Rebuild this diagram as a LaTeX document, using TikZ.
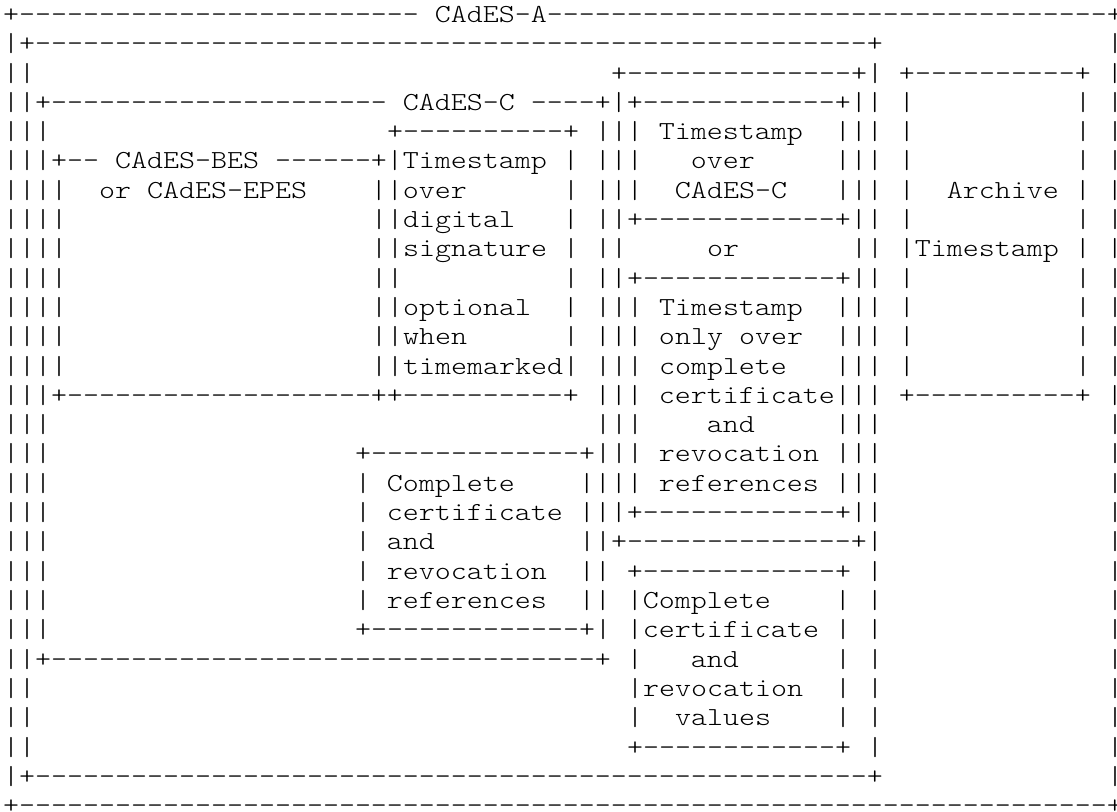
\documentclass[tikz,border=0pt]{standalone}
\usepackage{graphicx}
\ExplSyntaxOn
\NewDocumentCommand\dsh{m}{\prg_replicate:nn{#1}{-\kern0pt}}
\ExplSyntaxOff
\newcommand\spc[1]{\hskip#1\fontcharwd\font`x\relax}
\newcommand\asciifont{\ttfamily\fontseries{l}\selectfont\fontsize{19.5}{19.5}\selectfont\frenchspacing}
\newcommand\asciitxt[1]{\scalebox{1.17216}[1]{#1}}
\tikzset{asciirow/.style={anchor=base west, inner sep=0pt, outer sep=0pt, font=\asciifont}}
\begin{document}
\begin{tikzpicture}[x=0.75pt,y=-0.75pt]
\fill[white] (0,0) rectangle (1117,812);
\useasboundingbox (0,0) rectangle (1117,812);
\clip (0,0) rectangle (1117,812);
\node[asciirow] (r0) at (3,22.5) {\asciitxt{+\dsh{25}\spc{1}CAdES-A\dsh{35}+}};
\node[asciirow] (r1) at (3,51.8) {\asciitxt{|+\dsh{52}+\spc{14}|}};
\node[asciirow] (r2) at (3,81.1) {\asciitxt{||\spc{36}+\dsh{14}+|\spc{1}+\dsh{10}+\spc{1}|}};
\node[asciirow] (r3) at (3,110.4) {\asciitxt{||+\dsh{21}\spc{1}CAdES-C\spc{1}\dsh{4}+|+\dsh{12}+||\spc{1}|\spc{10}|\spc{1}|}};
\node[asciirow] (r4) at (3,139.7) {\asciitxt{|||\spc{21}+\dsh{10}+\spc{1}|||\spc{1}Timestamp\spc{2}|||\spc{1}|\spc{10}|\spc{1}|}};
\node[asciirow] (r5) at (3,169.0) {\asciitxt{|||+\dsh{2}\spc{1}CAdES-BES\spc{1}\dsh{6}+|Timestamp\spc{1}|\spc{1}|||\spc{3}over\spc{5}|||\spc{1}|\spc{10}|\spc{1}|}};
\node[asciirow] (r6) at (3,198.3) {\asciitxt{||||\spc{2}or\spc{1}CAdES-EPES\spc{4}||over\spc{6}|\spc{1}|||\spc{2}CAdES-C\spc{3}|||\spc{1}|\spc{2}Archive\spc{1}|\spc{1}|}};
\node[asciirow] (r7) at (3,227.6) {\asciitxt{||||\spc{19}||digital\spc{3}|\spc{1}||+\dsh{12}+||\spc{1}|\spc{10}|\spc{1}|}};
\node[asciirow] (r8) at (3,256.9) {\asciitxt{||||\spc{19}||signature\spc{1}|\spc{1}||\spc{5}or\spc{7}||\spc{1}|Timestamp\spc{1}|\spc{1}|}};
\node[asciirow] (r9) at (3,286.2) {\asciitxt{||||\spc{19}||\spc{10}|\spc{1}||+\dsh{12}+||\spc{1}|\spc{10}|\spc{1}|}};
\node[asciirow] (r10) at (3,315.5) {\asciitxt{||||\spc{19}||optional\spc{2}|\spc{1}|||\spc{1}Timestamp\spc{2}|||\spc{1}|\spc{10}|\spc{1}|}};
\node[asciirow] (r11) at (3,344.8) {\asciitxt{||||\spc{19}||when\spc{6}|\spc{1}|||\spc{1}only\spc{1}over\spc{2}|||\spc{1}|\spc{10}|\spc{1}|}};
\node[asciirow] (r12) at (3,374.1) {\asciitxt{||||\spc{19}||timemarked|\spc{1}|||\spc{1}complete\spc{3}|||\spc{1}|\spc{10}|\spc{1}|}};
\node[asciirow] (r13) at (3,403.4) {\asciitxt{|||+\dsh{19}++\dsh{10}+\spc{1}|||\spc{1}certificate|||\spc{1}+\dsh{10}+\spc{1}|}};
\node[asciirow] (r14) at (3,432.7) {\asciitxt{|||\spc{34}|||\spc{4}and\spc{5}|||\spc{14}|}};
\node[asciirow] (r15) at (3,462.0) {\asciitxt{|||\spc{19}+\dsh{13}+|||\spc{1}revocation\spc{1}|||\spc{14}|}};
\node[asciirow] (r16) at (3,491.3) {\asciitxt{|||\spc{19}|\spc{1}Complete\spc{4}||||\spc{1}references\spc{1}|||\spc{14}|}};
\node[asciirow] (r17) at (3,520.6) {\asciitxt{|||\spc{19}|\spc{1}certificate\spc{1}|||+\dsh{12}+||\spc{14}|}};
\node[asciirow] (r18) at (3,549.9) {\asciitxt{|||\spc{19}|\spc{1}and\spc{9}||+\dsh{14}+|\spc{14}|}};
\node[asciirow] (r19) at (3,579.2) {\asciitxt{|||\spc{19}|\spc{1}revocation\spc{2}||\spc{1}+\dsh{12}+\spc{1}|\spc{14}|}};
\node[asciirow] (r20) at (3,608.5) {\asciitxt{|||\spc{19}|\spc{1}references\spc{2}||\spc{1}|Complete\spc{4}|\spc{1}|\spc{14}|}};
\node[asciirow] (r21) at (3,637.8) {\asciitxt{|||\spc{19}+\dsh{13}+|\spc{1}|certificate\spc{1}|\spc{1}|\spc{14}|}};
\node[asciirow] (r22) at (3,667.1) {\asciitxt{||+\dsh{34}+\spc{1}|\spc{3}and\spc{6}|\spc{1}|\spc{14}|}};
\node[asciirow] (r23) at (3,696.4) {\asciitxt{||\spc{37}|revocation\spc{2}|\spc{1}|\spc{14}|}};
\node[asciirow] (r24) at (3,725.7) {\asciitxt{||\spc{37}|\spc{2}values\spc{4}|\spc{1}|\spc{14}|}};
\node[asciirow] (r25) at (3,755.0) {\asciitxt{||\spc{37}+\dsh{12}+\spc{1}|\spc{14}|}};
\node[asciirow] (r26) at (3,784.3) {\asciitxt{|+\dsh{52}+\spc{14}|}};
\node[asciirow] (r27) at (3,813.6) {\asciitxt{+\dsh{68}+}};
\end{tikzpicture}
\end{document}
